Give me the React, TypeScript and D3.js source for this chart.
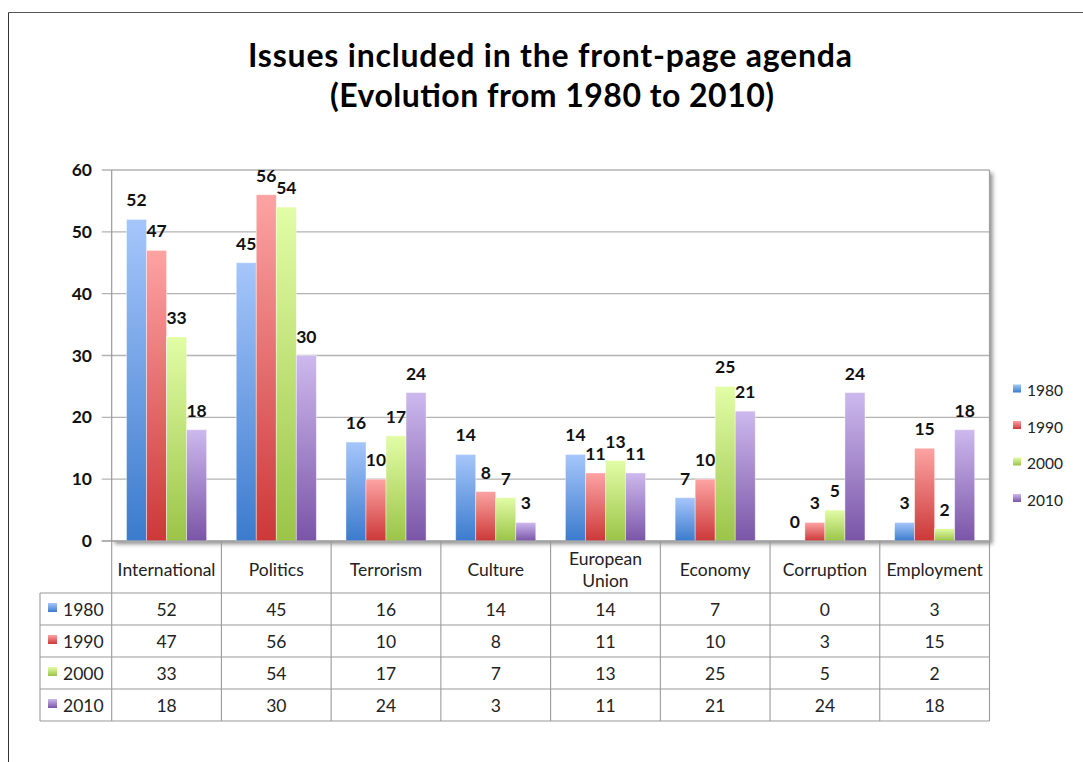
import React from "react";
import * as d3 from "d3";

const categories = ["International", "Politics", "Terrorism", "Culture", "European Union", "Economy", "Corruption", "Employment"];
const categoryLines = [["International"], ["Politics"], ["Terrorism"], ["Culture"], ["European", "Union"], ["Economy"], ["Corruption"], ["Employment"]];
const seriesNames = ["1980", "1990", "2000", "2010"];
const values1980 = [52, 45, 16, 14, 14, 7, 0, 3];
const values1990 = [47, 56, 10, 8, 11, 10, 3, 15];
const values2000 = [33, 54, 17, 7, 13, 25, 5, 2];
const values2010 = [18, 30, 24, 3, 11, 21, 24, 18];
const yTicks = [0, 10, 20, 30, 40, 50, 60];

const seriesValues = [values1980, values1990, values2000, values2010];
const gradTop = ["#a6c6fb", "#fda3a3", "#e2fda6", "#cdb9ee"];
const gradBot = ["#3b7bcd", "#cc3838", "#9bc448", "#7a55a7"];

const W = 1083, H = 762;
const plotL = 111.7, plotR = 989.5, plotT = 170, plotB = 541;
const rowLines = [593, 625, 657, 689, 721];
const tableL = 40;
const font = "Lato, 'Open Sans', sans-serif";

export default function App() {
  const x0 = d3.scaleBand<string>().domain(categories).range([plotL, plotR]).padding(0);
  const x1 = d3.scaleBand<string>().domain(seriesNames).range([0, x0.bandwidth()]).paddingInner(0).paddingOuter(0.74);
  const y = d3.scaleLinear().domain([0, 60]).range([plotB, plotT]);
  const bounds = categories.map((c) => x0(c) as number).concat([plotR]);

  return (
    <svg width={W} height={H} style={{ position: "absolute", left: 0, top: 0, background: "#fff" }} fontFamily={font}>
      <defs>
        {seriesNames.map((s, i) => (
          <linearGradient key={s} id={`g${i}`} x1="0" y1="0" x2="0" y2="1">
            <stop offset="0%" stopColor={gradTop[i]} />
            <stop offset="100%" stopColor={gradBot[i]} />
          </linearGradient>
        ))}
        <filter id="shadow" x="-5%" y="-5%" width="115%" height="115%">
          <feDropShadow dx="3" dy="3" stdDeviation="2" floodColor="#000" floodOpacity="0.45" />
        </filter>
      </defs>
      {/* frame */}
      <line x1={8.5} y1={12.5} x2={W} y2={12.5} stroke="#555" strokeWidth={1} />
      <line x1={8.5} y1={12.5} x2={8.5} y2={H} stroke="#333" strokeWidth={1} />
      {/* title */}
      <text x={550} y={67} textAnchor="middle" fontWeight="bold" fontSize={32} fill="#000" textLength={604} lengthAdjust="spacing">Issues included in the front-page agenda</text>
      <text x={552} y={107} textAnchor="middle" fontWeight="bold" fontSize={32} fill="#000" textLength={444} lengthAdjust="spacing">(Evolution from 1980 to 2010)</text>
      {/* plot background with shadow */}
      <rect x={plotL} y={plotT} width={plotR - plotL} height={plotB - plotT} fill="#fff" filter="url(#shadow)" />
      {/* gridlines */}
      {yTicks.map((t) => (
        <g key={t}>
          <line x1={plotL - 10} x2={plotR} y1={y(t)} y2={y(t)} stroke="#b3b3b3" strokeWidth={1.3} />
          <text x={92} y={y(t) + 6} textAnchor="end" fontWeight="bold" fontSize={17.5} fill="#111">{t}</text>
        </g>
      ))}
      <line x1={plotR} x2={plotR} y1={plotT} y2={plotB} stroke="#a0a0a0" strokeWidth={1.2} />
      {/* bars */}
      {categories.map((c, ci) => (
        <g key={c} transform={`translate(${x0(c)},0)`}>
          {seriesNames.map((s, si) => {
            const v = seriesValues[si][ci];
            const bx = x1(s) as number;
            const bw = x1.bandwidth();
            return (
              <g key={s}>
                {v > 0 && (
                  <rect x={bx} y={y(v)} width={bw} height={plotB - y(v)} fill={`url(#g${si})`} stroke="rgba(255,255,255,0.5)" strokeWidth={0.8} />
                )}
                <text x={bx + bw / 2} y={y(v) - 13} textAnchor="middle" fontWeight="bold" fontSize={17.5} fill="#111">{v}</text>
              </g>
            );
          })}
        </g>
      ))}
      {/* axis lines */}
      <line x1={plotL} x2={plotL} y1={plotT} y2={plotB} stroke="#999" strokeWidth={1.2} />
      <line x1={plotL - 10} x2={plotR} y1={plotB} y2={plotB} stroke="#999" strokeWidth={1.2} />
      {/* table */}
      {bounds.map((bx, i) => (
        <line key={i} x1={bx} x2={bx} y1={plotB} y2={rowLines[4]} stroke="#9a9a9a" strokeWidth={1.1} />
      ))}
      <line x1={tableL} x2={tableL} y1={rowLines[0]} y2={rowLines[4]} stroke="#9a9a9a" strokeWidth={1.1} />
      {rowLines.map((ry, i) => (
        <line key={i} x1={tableL} x2={plotR} y1={ry} y2={ry} stroke="#9a9a9a" strokeWidth={1.1} />
      ))}
      {categories.map((c, ci) => {
        const cx = (x0(c) as number) + x0.bandwidth() / 2;
        const lines = categoryLines[ci];
        return (
          <text key={c} textAnchor="middle" fontSize={17.5} fill="#222">
            {lines.map((ln, li) => (
              <tspan key={li} x={cx} y={lines.length === 1 ? 576 : 564.5 + li * 22}>{ln}</tspan>
            ))}
          </text>
        );
      })}
      {seriesNames.map((s, si) => {
        const cy = (rowLines[si] + rowLines[si + 1]) / 2;
        return (
          <g key={s}>
            <rect x={48} y={cy - 6} width={9} height={9} fill={`url(#g${si})`} />
            <text x={63} y={cy + 6.5} fontSize={17.5} fill="#222">{s}</text>
            {categories.map((c, ci) => (
              <text key={c} x={(x0(c) as number) + x0.bandwidth() / 2} y={cy + 6.5} textAnchor="middle" fontSize={17.5} fill="#222">
                {seriesValues[si][ci]}
              </text>
            ))}
          </g>
        );
      })}
      {/* legend */}
      {seriesNames.map((s, si) => (
        <g key={s} transform={`translate(1013, ${390.5 + si * 36.5})`}>
          <rect x={0} y={-6} width={8} height={8} fill={`url(#g${si})`} />
          <text x={14} y={5.5} fontSize={15.5} fill="#222">{s}</text>
        </g>
      ))}
    </svg>
  );
}
